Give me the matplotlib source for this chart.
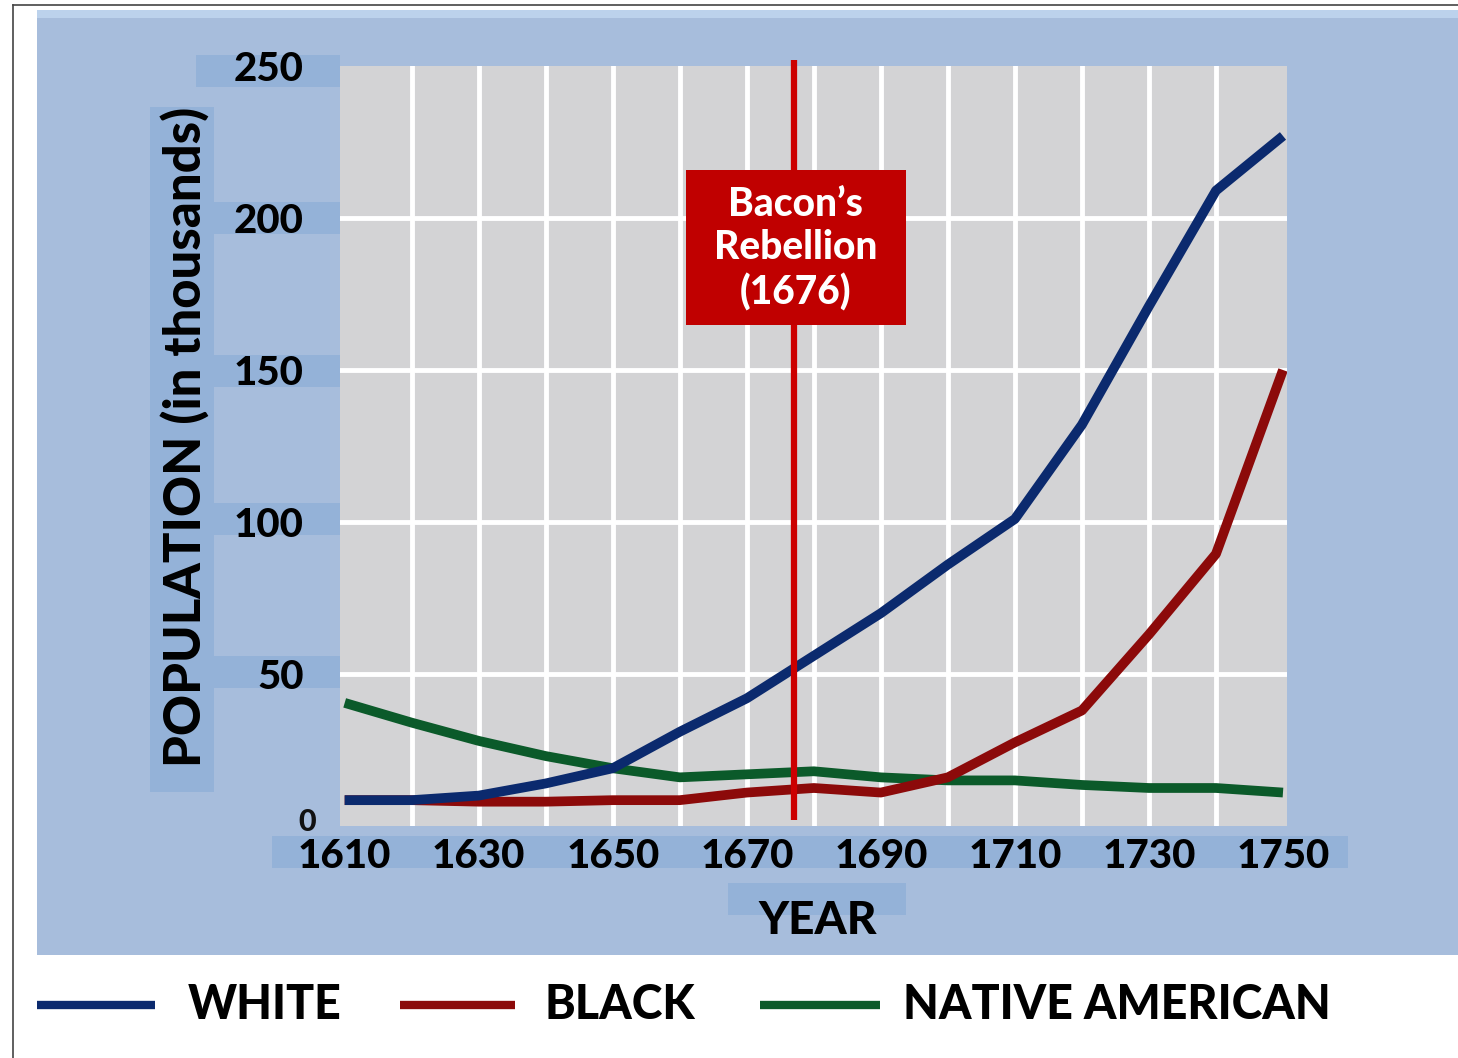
import matplotlib
matplotlib.use("Agg")
import matplotlib.pyplot as plt
from matplotlib.patches import Rectangle
from matplotlib.lines import Line2D

# ---------------- data ----------------
years = [1610, 1620, 1630, 1640, 1650, 1660, 1670, 1680, 1690, 1700,
         1710, 1720, 1730, 1740, 1750]
white = [8.5, 8.5, 10, 14, 19, 31, 42, 56, 70, 86, 101, 132, 171, 209, 227]
black = [8.5, 8.5, 8, 8, 8.5, 8.5, 11, 12.5, 11, 16, 27.5, 38, 63, 89.5, 150]
native = [40.5, 34, 28, 23, 19, 16, 17, 18, 16, 15, 15, 13.5, 12.5, 12.5, 11]

series_names = ["WHITE", "BLACK", "NATIVE AMERICAN"]
series_colors = ["#0b2a6e", "#8c0a0a", "#0b5a2a"]

xtick_vals = [1610, 1630, 1650, 1670, 1690, 1710, 1730, 1750]
xtick_labels = ["1610", "1630", "1650", "1670", "1690", "1710", "1730", "1750"]
ytick_vals = [50, 100, 150, 200, 250]
ytick_labels = ["50", "100", "150", "200", "250"]

event_year = 1677
event_label = "Bacon\u2019s\nRebellion\n(1676)"

# ---------------- layout helpers ----------------
W, H = 1458, 1058
def fx(px):
    return px / W
def fy(py):
    return 1 - py / H

FONT = "Lato"
WEIGHT = 900
PANEL = "#a7bddc"
BOX = "#94b2d8"

fig = plt.figure(figsize=(W / 100, H / 100), dpi=100)
fig.patch.set_facecolor("white")

# outer frame lines
fig.add_artist(Line2D([fx(13), fx(13)], [fy(5), fy(1058)], color="#444444", lw=1.2, zorder=-5))
fig.add_artist(Line2D([fx(13), fx(1458)], [fy(5), fy(5)], color="#444444", lw=1.2, zorder=-5))
# blue panel
fig.add_artist(Rectangle((fx(37), fy(955)), fx(1458) - fx(37), fy(10) - fy(955),
                         transform=fig.transFigure, facecolor=PANEL, edgecolor="none", zorder=-4))
fig.add_artist(Rectangle((fx(37), fy(18)), fx(1458) - fx(37), fy(10) - fy(18),
                         transform=fig.transFigure, facecolor="#bcd2ec", edgecolor="none", zorder=-4))

# label boxes (pixel rectangles: x0, x1, y0, y1)
boxes = [(196, 340, 55, 87), (214, 340, 202, 234), (214, 340, 355, 387),
         (214, 340, 503, 535), (214, 340, 656, 688), (150, 214, 107, 792),
         (272, 1348, 836, 868), (728, 906, 883, 915)]
for x0, x1, y0, y1 in boxes:
    fig.add_artist(Rectangle((fx(x0), fy(y1)), fx(x1) - fx(x0), fy(y0) - fy(y1),
                             transform=fig.transFigure, facecolor=BOX, edgecolor="none", zorder=-3))

# ---------------- axes ----------------
ax_l, ax_r, ax_t, ax_b = 340, 1287, 66, 826
ax = fig.add_axes([fx(ax_l), fy(ax_b), fx(ax_r) - fx(ax_l), fy(ax_t) - fy(ax_b)])
ax.set_facecolor("#d3d3d5")
ax.set_xlim(1609.3, 1750.6)
ax.set_ylim(0, 250)
for s in ax.spines.values():
    s.set_visible(False)

# grid
for gx in range(1620, 1750, 10):
    ax.axvline(gx, color="white", lw=3.5, zorder=1)
for gy in [50, 100, 150, 200]:
    ax.axhline(gy, color="white", lw=3.5, zorder=1)

# series
ax.plot(years, native, color=series_colors[2], lw=7, zorder=3, solid_capstyle="butt")
ax.plot(years, black, color=series_colors[1], lw=7, zorder=4, solid_capstyle="butt")
ax.plot(years, white, color=series_colors[0], lw=7, zorder=5, solid_capstyle="butt")

# event line and box
ax.vlines(event_year, 2, 252, color="#cc0000", lw=4.5, zorder=6, clip_on=False)
ax.add_patch(Rectangle((1660.9, 164.8), 32.9, 51.0, facecolor="#c00000", edgecolor="none", zorder=7))
ax.text(1677.3, 190.0, event_label, ha="center", va="center", color="white",
        fontsize=28, fontweight=WEIGHT, family=FONT, linespacing=1.22, zorder=8)

# ticks
ax.set_xticks(xtick_vals)
ax.set_xticklabels(xtick_labels)
ax.set_yticks(ytick_vals)
ax.set_yticklabels(ytick_labels)
ax.tick_params(axis="both", length=0)
ax.tick_params(axis="x", pad=9)
ax.tick_params(axis="y", pad=26)
for lab in ax.get_xticklabels() + ax.get_yticklabels():
    lab.set_fontsize(29)
    lab.set_fontweight(WEIGHT)
    lab.set_family(FONT)

ax.text(-0.035, 0.005, "0", transform=ax.transAxes, ha="center", va="center",
        fontsize=22, fontweight=WEIGHT, family=FONT, color="#111111")

ax.set_ylabel("POPULATION (in thousands)", fontsize=36.5, fontweight=WEIGHT, family=FONT)
ax.yaxis.set_label_coords(-0.137, 0.512)
ax.set_xlabel("YEAR", fontsize=33, fontweight=WEIGHT, family=FONT)
ax.xaxis.set_label_coords(0.504, -0.097)

# ---------------- legend ----------------
leg_y = 1005
leg_items = [(37, 155, 188), (400, 515, 545), (760, 880, 903)]
for (x0, x1, tx), name, col in zip(leg_items, series_names, series_colors):
    fig.add_artist(Line2D([fx(x0), fx(x1)], [fy(leg_y), fy(leg_y)], color=col, lw=6,
                          solid_capstyle="butt"))
    fig.text(fx(tx), fy(leg_y), name, ha="left", va="center", fontsize=33.5,
             fontweight=WEIGHT, family=FONT, color="black")

fig.savefig("out.png", dpi=100, facecolor="white")
